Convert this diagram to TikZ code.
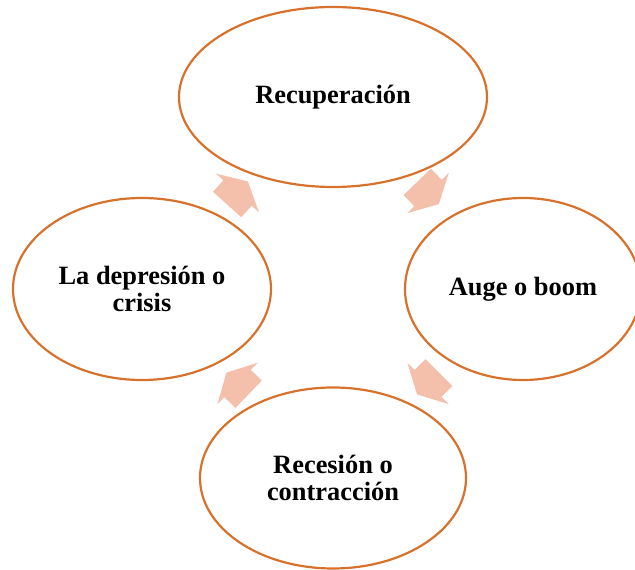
\documentclass[tikz,border=0pt]{standalone}
\usepackage{fontspec}
\setmainfont{Liberation Serif}
\usetikzlibrary{shapes.geometric,calc}
\definecolor{ringc}{HTML}{D7722C}
\definecolor{arrowc}{HTML}{F4BFAB}
\tikzset{
  phase/.style={ellipse, draw=ringc, line width=2.2pt, fill=white, inner sep=0pt,
    align=center, font=\fontsize{26.4}{27.5}\selectfont\bfseries},
  cyclearrow/.style={fill=arrowc, draw=none}
}
\begin{document}
\begin{tikzpicture}[x=1pt,y=1pt]
\useasboundingbox (0,0) rectangle (635,570);
\node[phase, minimum width=308pt, minimum height=180pt] (rec) at (333,473) {Recuperación};
\node[phase, minimum width=236pt, minimum height=182pt] (auge) at (523,281) {Auge o boom};
\node[phase, minimum width=258pt, minimum height=182pt] (cri) at (142,281) {La depresión o\\crisis};
\node[phase, minimum width=266pt, minimum height=181pt] (res) at (333,92) {Recesión o\\contracción};
\coordinate (a1) at ($(cri)!0.5!(rec)$);
\coordinate (a2) at ($(rec)!0.5!(auge)$);
\coordinate (a3) at ($(auge)!0.5!(res)$);
\coordinate (a4) at ($(res)!0.5!(cri)$);
\foreach \c/\r in {a1/48, a2/-46, a3/-135, a4/136}{
  \fill[cyclearrow, shift={(\c)}, rotate=\r]
    (-15.5,-19) -- (0,-19) -- (0,-29) -- (15.5,0) -- (0,29) -- (0,19) -- (-15.5,19) -- cycle;
}
\end{tikzpicture}
\end{document}
